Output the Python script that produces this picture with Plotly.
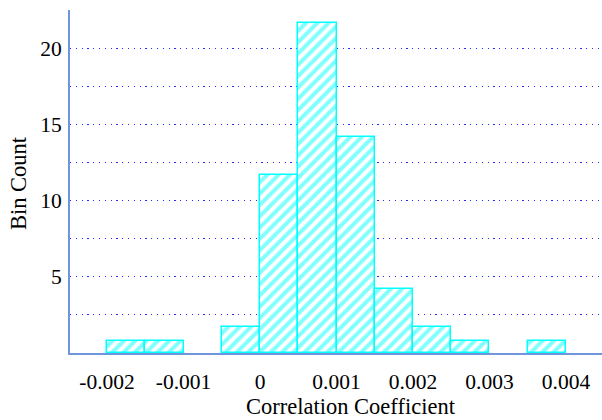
import plotly.graph_objects as go

bin_starts = [-0.002, -0.0015, -0.0005, 0.0, 0.0005, 0.001, 0.0015, 0.002, 0.0025, 0.0035]
bin_counts = [0.8, 0.8, 1.7, 11.65, 21.65, 14.15, 4.2, 1.7, 0.8, 0.8]
bin_width = 0.0005

x_tickvals = [-0.002, -0.001, 0, 0.001, 0.002, 0.003, 0.004]
x_ticktext = ["-0.002", "-0.001", "0", "0.001", "0.002", "0.003", "0.004"]
y_tickvals = [2.5, 5, 7.5, 10, 12.5, 15, 17.5, 20, 22.5]
y_ticktext = ["", "5", "", "10", "", "15", "", "20", ""]

x_title = "Correlation Coefficient"
y_title = "Bin Count"

font_family = "Liberation Serif, Times New Roman, serif"

fig = go.Figure()
fig.add_trace(go.Bar(
    x=bin_starts,
    y=bin_counts,
    width=[bin_width] * len(bin_starts),
    offset=0,
    marker=dict(
        color="white",
        line=dict(color="#00ffff", width=1.5),
        pattern=dict(shape="/", fgcolor="#80ffff", bgcolor="white",
                     size=8, solidity=0.5, fillmode="replace"),
    ),
    showlegend=False,
))

fig.update_layout(
    width=602, height=420,
    margin=dict(l=70, r=0, t=10, b=67),
    paper_bgcolor="white", plot_bgcolor="white",
    font=dict(family=font_family, size=21.5, color="black"),
    bargap=0,
    annotations=[
        dict(text=x_title, xref="paper", yref="paper", x=0.528, y=-0.155,
             xanchor="center", yanchor="middle", showarrow=False,
             font=dict(size=22.5)),
        dict(text=y_title, xref="paper", yref="paper", x=-0.0968, y=0.494,
             xanchor="center", yanchor="middle", showarrow=False, textangle=-90,
             font=dict(size=22.5)),
    ],
)
fig.update_xaxes(
    range=[-0.002484, 0.004471],
    tickvals=x_tickvals, ticktext=x_ticktext,
    showgrid=False, zeroline=False,
    showline=True, linecolor="#6f95dd", linewidth=2,
    ticks="", ticklabelstandoff=8,
)
fig.update_yaxes(
    range=[0, 22.5],
    tickvals=y_tickvals, ticktext=y_ticktext,
    showgrid=True, gridcolor="#2a2aff", griddash="1.2px,4.6px", gridwidth=1,
    zeroline=False,
    showline=True, linecolor="#6f95dd", linewidth=2,
    ticks="", ticklabelstandoff=2,
)

fig.write_html("out.html")
